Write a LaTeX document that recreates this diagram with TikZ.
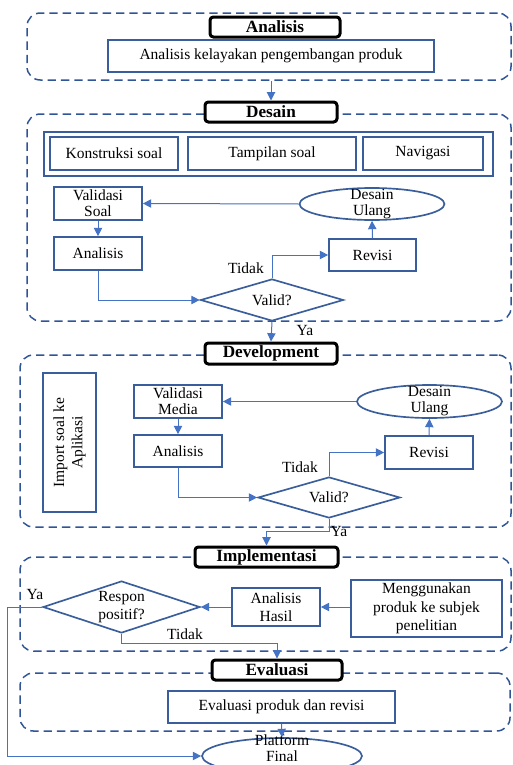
\documentclass[tikz,border=0pt]{standalone}
\usepackage{fontspec}
\setmainfont{Liberation Serif}
\usetikzlibrary{arrows.meta,positioning,shapes.geometric}
\definecolor{dashblue}{HTML}{2F5597}
\definecolor{boxblue}{HTML}{3A5E9C}
\definecolor{linkblue}{HTML}{4472C4}

\begin{document}
\begin{tikzpicture}[
    x=0.6pt,y=-0.6pt,
    >={Triangle[length=5pt,width=5pt]},
    font=\fontsize{9.3}{11}\selectfont,
    sz/.style 2 args={minimum width=#1*0.6pt,minimum height=#2*0.6pt},
    region/.style={draw=dashblue,line width=0.9pt,dash pattern=on 5pt off 3pt,rounded corners=8pt,inner sep=0},
    stage/.style={draw=black,line width=1.8pt,rounded corners=2pt,fill=white,inner sep=0,font=\fontsize{10.3}{11}\selectfont\bfseries},
    box/.style={draw=boxblue,line width=1pt,inner sep=0,align=center},
    tight/.style={font=\fontsize{9.3}{9.6}\selectfont},
    check/.style={diamond,aspect=3,draw=boxblue,line width=1pt,inner sep=0,align=center},
    oval/.style={ellipse,draw=boxblue,line width=1pt,inner sep=0},
    link/.style={->,draw=linkblue,line width=0.6pt},
    lbl/.style={inner sep=0}
  ]
  \clip (0,0) rectangle (513,765);

  % dashed stage regions
  \node[region,sz={484}{67}] (rAnalisis) at (269,46.5) {};
  \node[region,sz={484}{207}] (rDesain) at (269,217.5) {};
  \node[region,sz={491}{172}] (rDevelop) at (265.5,441) {};
  \node[region,sz={491}{94}] (rImplement) at (265.5,604) {};
  \node[region,sz={490}{58}] (rEvaluasi) at (265,702) {};

  % stage titles
  \node[stage,sz={130}{20}] (tAnalisis) at (275,27) {Analisis};
  \node[stage,sz={132}{20}] (tDesain) at (271,112) {Desain};
  \node[stage,sz={132}{21}] (tDevelop) at (271,353.5) {Development};
  \node[stage,sz={143}{20}] (tImplement) at (266.5,557) {Implementasi};
  \node[stage,sz={130}{20}] (tEvaluasi) at (277,670) {Evaluasi};

  % Analisis
  \node[box,sz={326}{32}] (bKelayakan) at (271,56) {Analisis kelayakan pengembangan produk};
  \draw[link] (tDesain.north |- rAnalisis.south) -- (tDesain.north);

  % Desain
  \node[box,sz={449}{44}] (bFrame) at (268.5,154) {};
  \node[box,sz={128}{33}] (bKonstruksi) at (114,153.5) {Konstruksi soal};
  \node[box,sz={168}{33}] (bTampilan) at (272,153.5) {Tampilan soal};
  \node[box,sz={120}{33}] (bNavigasi) at (423,153.5) {Navigasi};
  \node[box,tight,sz={88}{33}] (bValSoal) at (98,203.5) {Validasi\\Soal};
  \node[oval,sz={145}{32},label={[tight,align=center]center:Desain\\Ulang}] (oUlang1) at (372,204) {};
  \node[box,sz={88}{33}] (bAnalisis1) at (98,253.5) {Analisis};
  \node[box,sz={87}{32}] (bRevisi1) at (372.5,255) {Revisi};
  \node[check,sz={143}{42}] (dValid1) at (272,300) {Valid?};
  \node[lbl] (tdk1) at (246,268) {Tidak};
  \node[lbl] (ya1) at (305,330) {Ya};

  \draw[link] (oUlang1.west) -- (bValSoal.east);
  \draw[link] (bValSoal.south) -- (bAnalisis1.north);
  \draw[link] (bRevisi1.north) -- (oUlang1.south);
  \draw[link] (bAnalisis1.south) |- (dValid1.west);
  \draw[link] (dValid1.north) |- (bRevisi1.west);
  \draw[link] (dValid1.south) -- (tDevelop.north);

  % Development
  \node[box,rotate=90,sz={139}{53}] (bImport) at (69.5,442.5) {Import soal ke\\Aplikasi};
  \node[box,tight,sz={88}{33}] (bValMedia) at (178,401.5) {Validasi\\Media};
  \node[oval,sz={145}{33},label={[tight,align=center]center:Desain\\Ulang}] (oUlang2) at (429.5,401.5) {};
  \node[box,sz={88}{32}] (bAnalisis2) at (178,451) {Analisis};
  \node[box,sz={88}{33}] (bRevisi2) at (429,452.5) {Revisi};
  \node[check,sz={142}{41}] (dValid2) at (329,497.5) {Valid?};
  \node[lbl] (tdk2) at (300,467) {Tidak};
  \node[lbl] (ya2) at (339,531) {Ya};

  \draw[link] (oUlang2.west) -- (bValMedia.east);
  \draw[link] (bValMedia.south) -- (bAnalisis2.north);
  \draw[link] (bRevisi2.north) -- (oUlang2.south);
  \draw[link] (bAnalisis2.south) |- (dValid2.west);
  \draw[link] (dValid2.north) |- (bRevisi2.west);
  \draw[link] (dValid2.south) -- ++(0,13) -| (tImplement.north);

  % Implementasi
  \node[check,sz={157}{52}] (dRespon) at (121.5,607) {Respon\\positif?};
  \node[box,sz={88}{38}] (bHasil) at (276,607) {Analisis\\Hasil};
  \node[box,sz={151}{57}] (bGuna) at (426.5,608.5) {Menggunakan\\produk ke subjek\\penelitian};
  \node[lbl] (tdk3) at (185,634) {Tidak};
  \node[lbl] (ya3) at (35,594) {Ya};

  \draw[link] (bGuna.west |- bHasil.east) -- (bHasil.east);
  \draw[link] (bHasil.west) -- (dRespon.east);
  \draw[link] (dRespon.south) -- ++(0,10) -| (tEvaluasi.north);

  % Evaluasi
  \node[box,sz={227}{32}] (bEvalRev) at (281.5,707) {Evaluasi produk dan revisi};
  \node[oval,sz={160}{36},label={[tight,align=center,yshift=4.5pt]center:Platform\\Final}] (oFinal) at (282,756) {};

  \draw[link] (bEvalRev.south) -- (oFinal.north);
  \draw[link] (dRespon.west) -- ++(-35,0) |- (oFinal.west);
\end{tikzpicture}
\end{document}
